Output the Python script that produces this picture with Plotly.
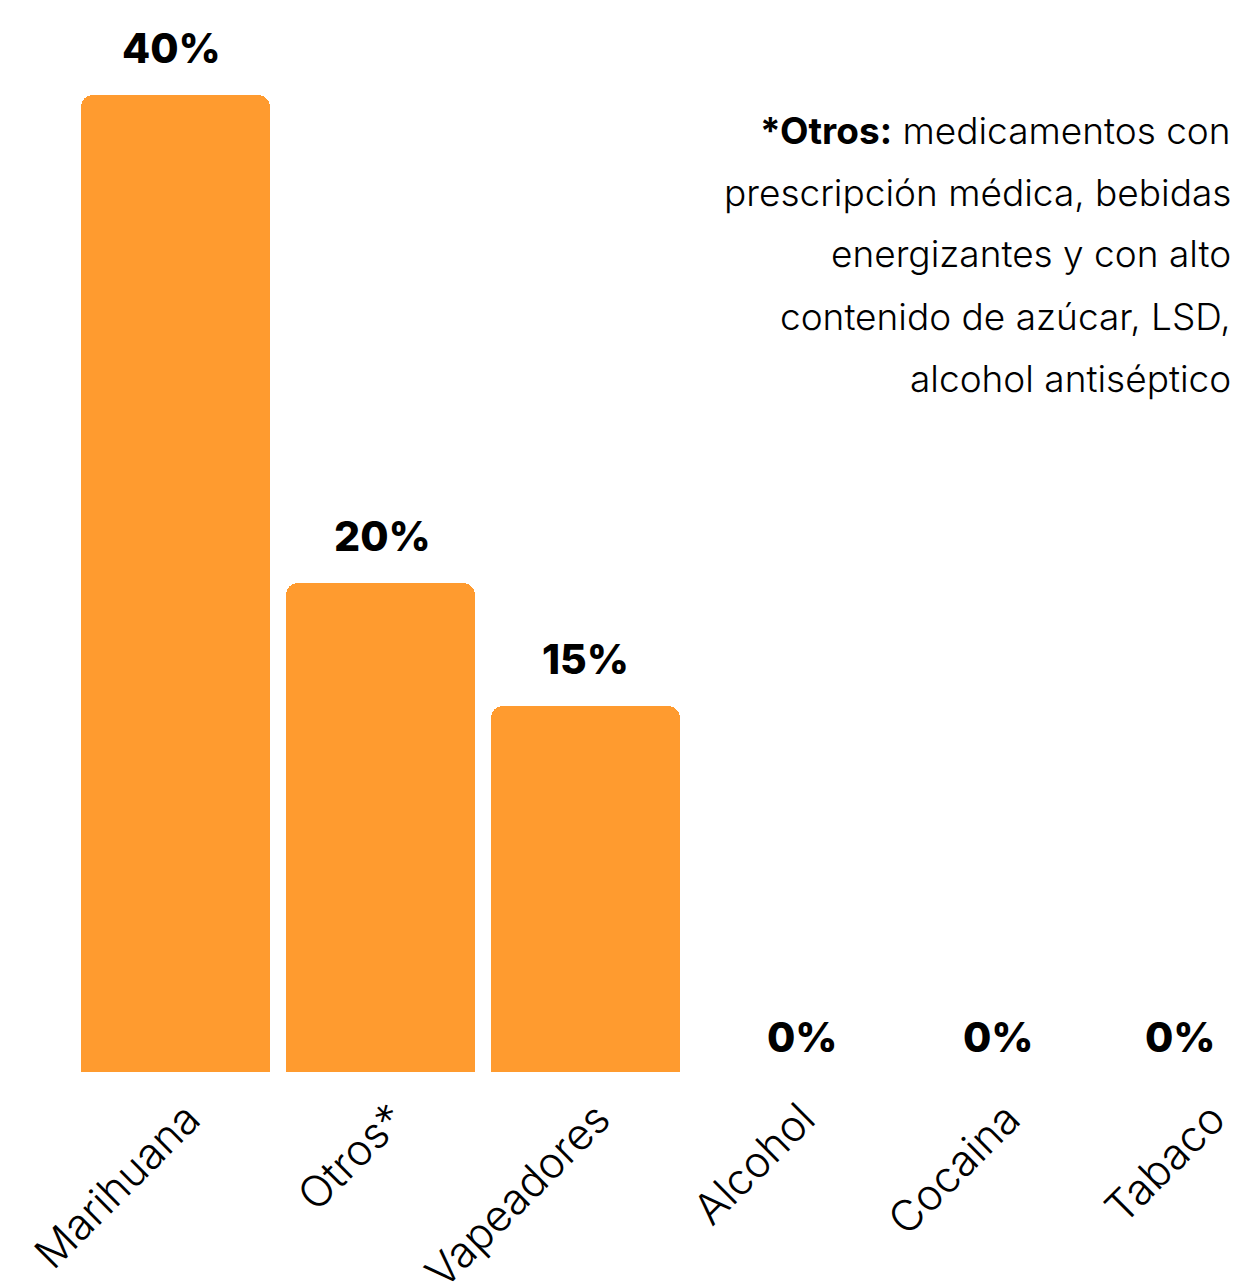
import plotly.graph_objects as go

categories = ["Marihuana", "Otros*", "Vapeadores", "Alcohol", "Cocaina", "Tabaco"]
values = [40, 20, 15, 0, 0, 0]
value_labels = ["40%", "20%", "15%", "0%", "0%", "0%"]
note_lines = [
    "<b>*Otros:</b> medicamentos con",
    "prescripción médica, bebidas",
    "energizantes y con alto",
    "contenido de azúcar, LSD,",
    "alcohol antiséptico",
]

# styling offsets for the value labels (pixels)
label_xshift = [-4, 2, 0, 12, 3, -20]
label_yshift = [20, 20, 20, 8, 8, 8]

W, H = 1238, 1282
OFF = 8  # page body margin
BOTTOM = 218
PLOT_H = H - BOTTOM
PX_PER_CAT = 205
PX_PER_PCT = 24.43
FONT = "Inter"

fig = go.Figure()
fig.add_trace(go.Bar(
    x=categories,
    y=values,
    marker=dict(color="#FF9B2F", cornerradius=12, line=dict(width=0)),
    width=0.922,
    hoverinfo="skip",
))

for c, v, t, dx, dy in zip(categories, values, value_labels, label_xshift, label_yshift):
    fig.add_annotation(
        x=c, y=v, text=t, showarrow=False, yanchor="bottom", yshift=dy, xshift=dx,
        font=dict(family=FONT, size=41, color="#000000", weight=800),
    )

line_px = [130, 192, 254, 316, 378]
for py, txt in zip(line_px, note_lines):
    fig.add_annotation(
        xref="paper", yref="paper", x=1, y=(PLOT_H - (py - OFF)) / PLOT_H,
        xanchor="right", yanchor="middle", xshift=-13, align="right",
        text=txt, showarrow=False,
        font=dict(family=FONT, size=37, color="#000000", weight=300),
    )

r0 = -(175.5 - OFF) / PX_PER_CAT
fig.update_layout(
    width=W, height=H,
    margin=dict(l=0, r=0, t=0, b=BOTTOM, autoexpand=False),
    paper_bgcolor="white", plot_bgcolor="white",
    showlegend=False,
    xaxis=dict(
        range=[r0, r0 + W / PX_PER_CAT], tickangle=-45, showgrid=False, zeroline=False,
        showline=False, ticks="", ticklabelshift=12, ticklabelstandoff=12, automargin=False,
        tickfont=dict(family=FONT, size=43, color="#000000", weight=300),
    ),
    yaxis=dict(range=[0, PLOT_H / PX_PER_PCT], visible=False, showgrid=False, zeroline=False,
               automargin=False),
    bargap=0,
)

fig.write_html("out.html")
